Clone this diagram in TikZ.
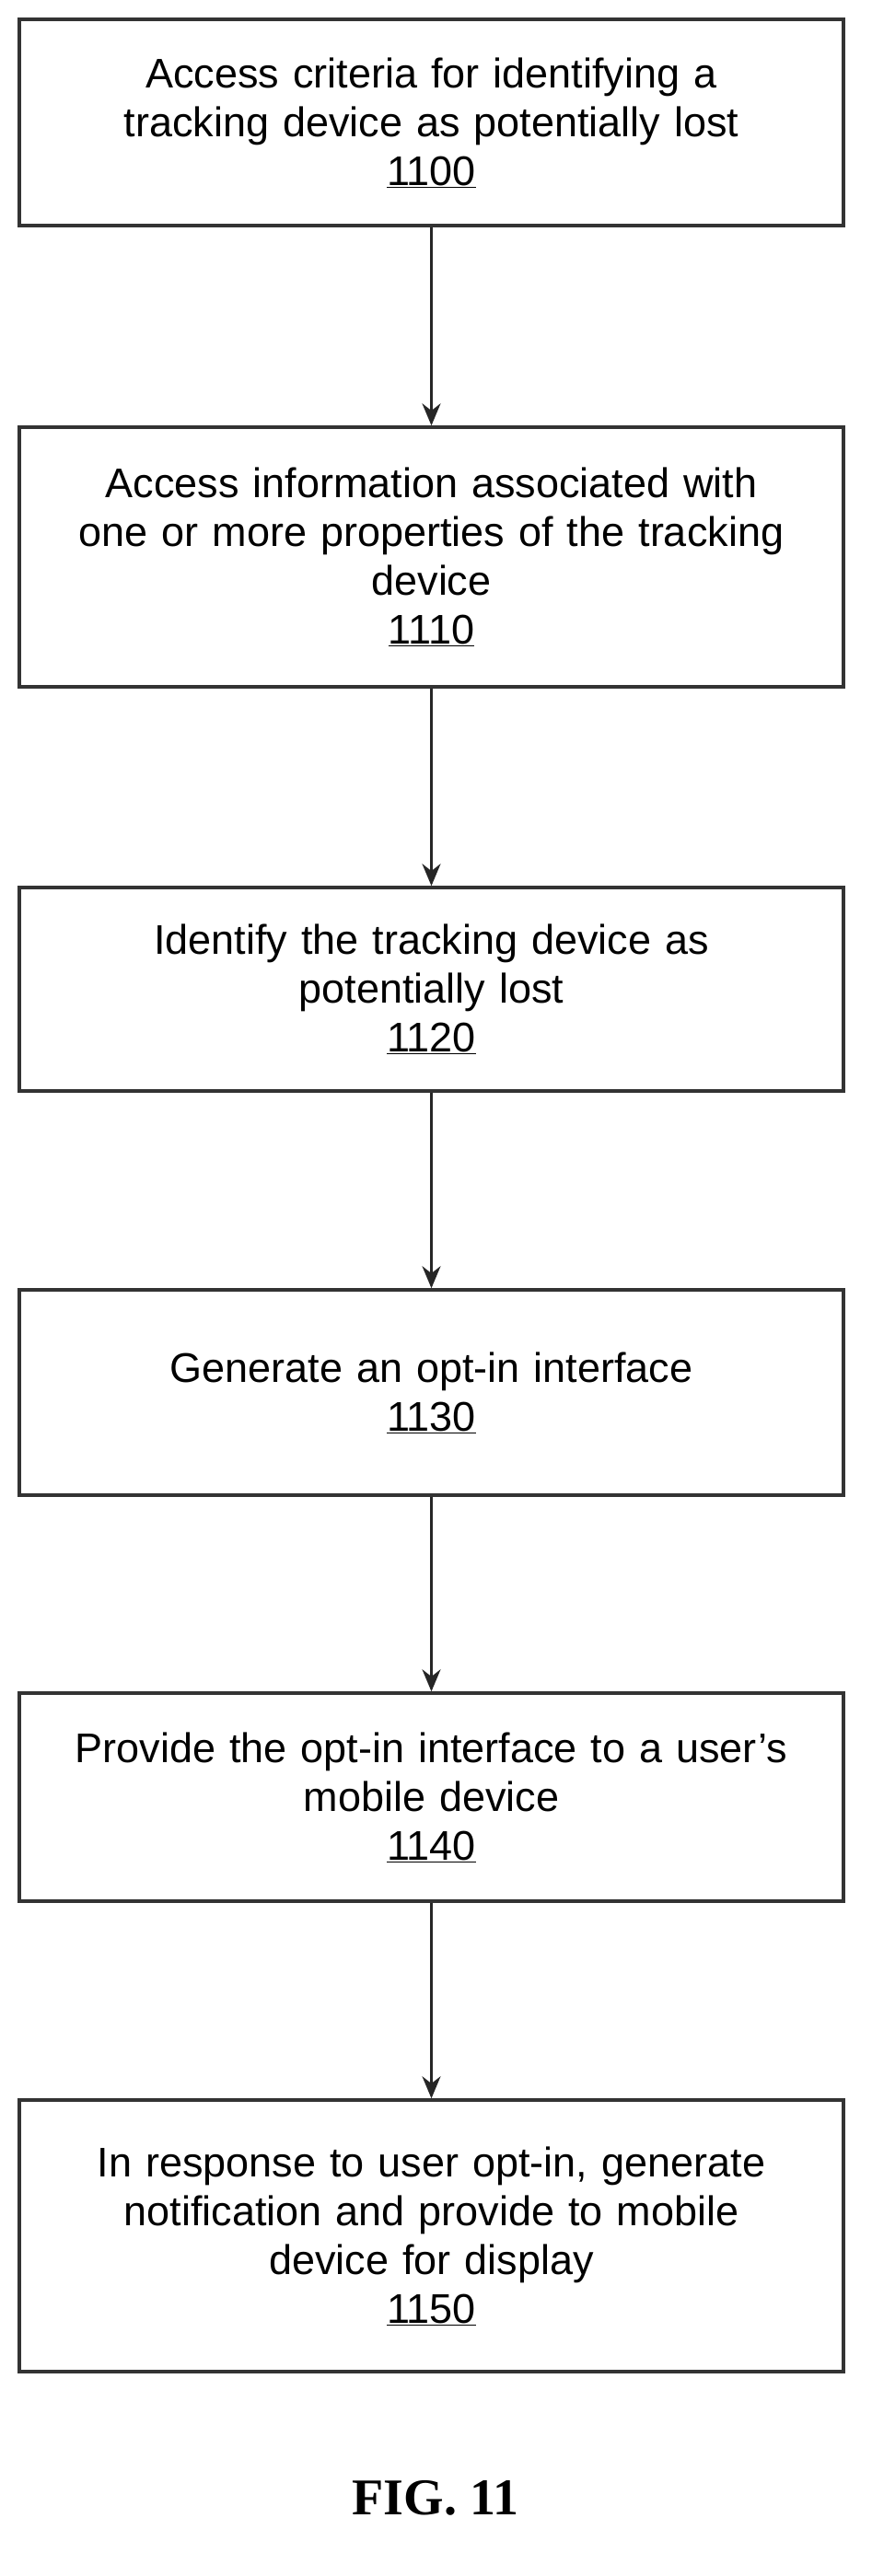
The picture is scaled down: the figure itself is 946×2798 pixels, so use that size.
\documentclass[tikz,border=0pt]{standalone}
\usepackage{fontspec}
\setmainfont{Liberation Sans}
\newfontfamily\figfont{Liberation Serif}
\usetikzlibrary{arrows.meta}
\begin{document}
\begin{tikzpicture}[x=1pt,y=-1pt,
 box/.style={draw=black!80,line width=3.5pt,minimum width=895pt,align=center,text width=880pt,font=\fontsize{45}{53}\selectfont,inner sep=0pt},
 arr/.style={draw=black!85,line width=3pt,-{Stealth[length=24pt,width=20pt]}}]
\useasboundingbox (0,0) rectangle (946,2798);
\node[box,minimum height=224pt] (b1) at (468.5,133) {Access criteria for identifying a\\tracking device as potentially lost\\\underline{1100}};
\node[box,minimum height=282pt] (b2) at (468.5,605) {Access information associated with\\one or more properties of the tracking\\device\\\underline{1110}};
\node[box,minimum height=221pt] (b3) at (468.5,1074.5) {Identify the tracking device as\\potentially lost\\\underline{1120}};
\node[box,minimum height=223pt] (b4) at (468.5,1512.5) {Generate an opt-in interface\\\underline{1130}};
\node[box,minimum height=226pt] (b5) at (468.5,1952) {Provide the opt-in interface to a user's\\mobile device\\\underline{1140}};
\node[box,minimum height=295pt] (b6) at (468.5,2428.5) {In response to user opt-in, generate\\notification and provide to mobile\\device for display\\\underline{1150}};
\node[font=\figfont\fontsize{56}{60}\selectfont\bfseries] (fig) at (473,2713) {FIG. 11};
\draw[arr] (b1) -- (b2);
\draw[arr] (b2) -- (b3);
\draw[arr] (b3) -- (b4);
\draw[arr] (b4) -- (b5);
\draw[arr] (b5) -- (b6);
\end{tikzpicture}
\end{document}
